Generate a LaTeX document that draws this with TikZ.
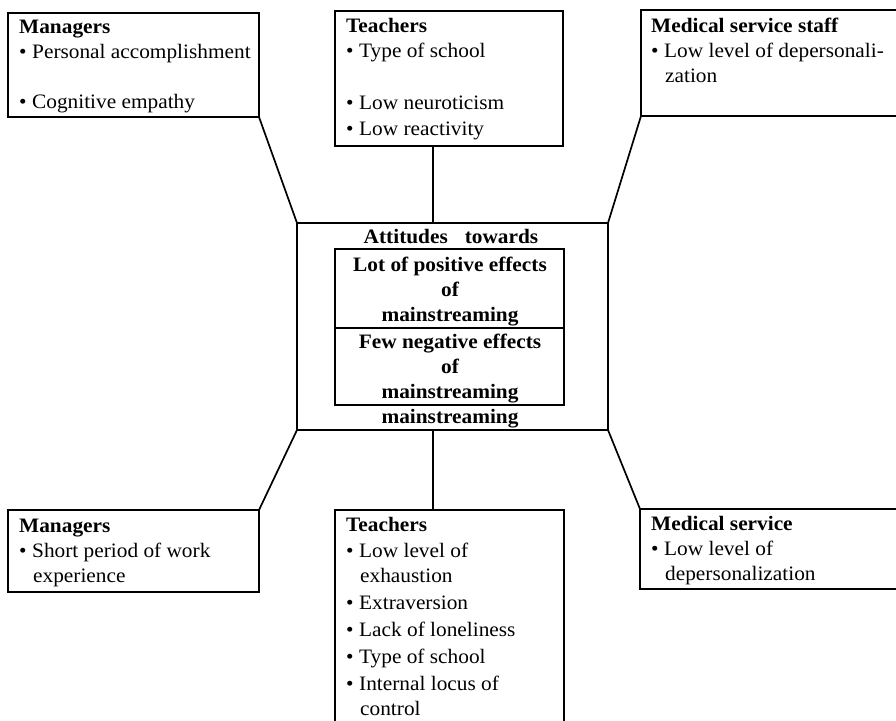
\documentclass[tikz,border=0pt]{standalone}
\usepackage{fontspec}
\setmainfont{Liberation Serif}[FakeStretch=1.04]
\usetikzlibrary{calc}

% bullet item helpers for the factor lists
\newcommand\bul{\makebox[13pt][l]{•}}
\newcommand\cont{\hspace*{14pt}}
\newcommand\textlines[2][l]{\begin{tabular}[t]{@{}#1@{}}#2\end{tabular}}

\begin{document}
\begin{tikzpicture}[x=1pt,y=-1pt,
  frame/.style={draw, line width=1.7pt, rectangle, inner sep=0pt, outer sep=0pt, anchor=north west},
  link/.style={line width=1.7pt},
  itemtext/.style={inner sep=0pt, anchor=base west, font=\fontsize{20.5}{25}\selectfont},
  midtext/.style={inner sep=0pt, anchor=base, font=\fontsize{20.5}{25.3}\selectfont\bfseries}]

\useasboundingbox (0,0) rectangle (896,720);
\clip (0,0) rectangle (896,720);

% outer factor boxes
\node[frame, minimum width=251pt, minimum height=104pt] (mgrTop) at (8,13) {};
\node[frame, minimum width=228pt, minimum height=135pt] (tchTop) at (335,11) {};
\node[frame, minimum width=265pt, minimum height=106pt] (medTop) at (641,10) {};
\node[frame, minimum width=251pt, minimum height=82pt] (mgrBot) at (8,510) {};
\node[frame, minimum width=229pt, minimum height=230pt] (tchBot) at (335,510) {};
\node[frame, minimum width=266pt, minimum height=80pt] (medBot) at (640,509) {};

% central attitude block
\node[frame, minimum width=311pt, minimum height=207pt] (core) at (297,223) {};
\node[frame, minimum width=229pt, minimum height=79pt] (pos) at (335,249) {};
\node[frame, minimum width=229pt, minimum height=77pt] (neg) at (335,328) {};

% texts of the factor boxes
\node[itemtext] (mgrTopText) at (19,33) {\textlines{\textbf{Managers}\\
  \bul Personal accomplishment\\ \\
  \bul Cognitive empathy}};
\node[itemtext, font=\fontsize{20.5}{25.75}\selectfont] (tchTopText) at (346,32) {\textlines{\textbf{Teachers}\\
  \bul Type of school\\ \\
  \bul Low neuroticism\\
  \bul Low reactivity}};
\node[itemtext] (medTopText) at (651,32) {\textlines{\textbf{Medical service staff}\\
  \bul Low level of depersonali-\\
  \cont zation}};
\node[itemtext] (mgrBotText) at (19,532) {\textlines{\textbf{Managers}\\
  \bul Short period of work\\
  \cont experience}};
\node[itemtext] (tchBotText) at (346,531) {\textlines{\textbf{Teachers}\\[1pt]
  \bul Low level of\\
  \cont exhaustion\\[2pt]
  \bul Extraversion\\[2pt]
  \bul Lack of loneliness\\[2pt]
  \bul Type of school\\[2pt]
  \bul Internal locus of\\
  \cont control}};
\node[itemtext] (medBotText) at (651,530) {\textlines{\textbf{Medical service}\\
  \bul Low level of\\
  \cont depersonalization}};

% texts of the central block
\node[midtext] (coreTitle) at (451,243) {Attitudes\hspace{17pt}towards};
\node[midtext] (posText) at (450,271) {\textlines[c]{Lot of positive effects\\ of\\ mainstreaming}};
\node[midtext] (negText) at (450,348) {\textlines[c]{Few negative effects\\ of\\ mainstreaming}};
\node[midtext] (coreFoot) at (450,423) {mainstreaming};

% connectors
\coordinate (spine) at (433,0);
\draw[link] (mgrTop.south east) -- (core.north west);
\draw[link] (tchTop.south -| spine) -- (core.north -| spine);
\draw[link] (medTop.south west) -- (core.north east);
\draw[link] (core.south west) -- (mgrBot.north east);
\draw[link] (core.south -| spine) -- (tchBot.north -| spine);
\draw[link] (core.south east) -- (medBot.north west);
\end{tikzpicture}
\end{document}
